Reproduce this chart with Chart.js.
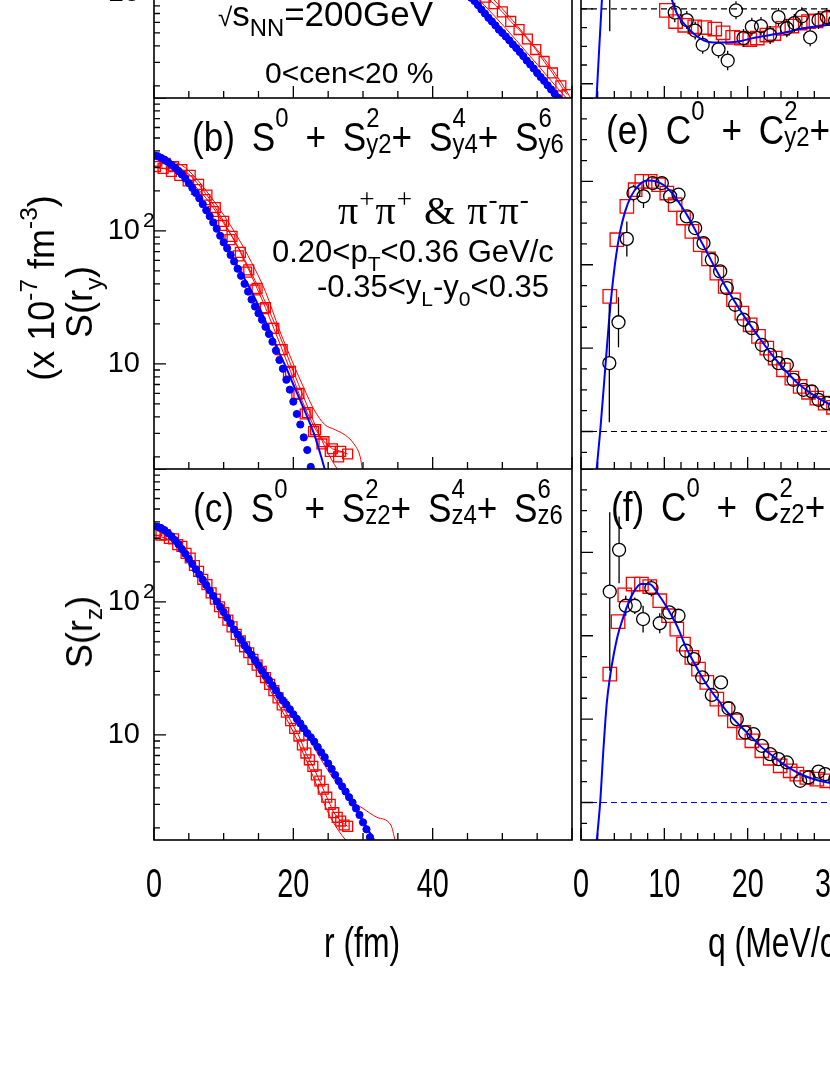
<!DOCTYPE html>
<html>
<head>
<meta charset="utf-8">
<script src="https://cdn.jsdelivr.net/npm/chart.js@4.4.1/dist/chart.umd.min.js"></script>
<style>
html, body { margin: 0; padding: 0; background: #fff; overflow: hidden; }
#page { position: relative; width: 830px; height: 1075px; overflow: hidden; background: #fff; }
#page canvas { position: absolute; }
.t { position: absolute; white-space: nowrap; font-family: "Liberation Sans", Arial, sans-serif; color: #000; line-height: 1; }
.t sup { font-size: .68em; vertical-align: .9em; line-height: 0; }
.t sub { font-size: .68em; vertical-align: -.4em; line-height: 0; }
.ttl { transform: scaleX(.88); transform-origin: left center; word-spacing: 8px; }
.st { position: relative; display: inline-block; font-size: .68em; line-height: 1; word-spacing: 0; }
.st .u { position: absolute; left: 0; bottom: .9em; }
.st .d { position: relative; top: .08em; }
.rot { transform: translate(-50%, -50%) rotate(-90deg); }
.serif { font-family: "Liberation Serif", "Times New Roman", serif; }
</style>
</head>
<body>
<div id="page">
  <canvas id="cvA" width="576" height="371" style="left:0;top:-273px"></canvas>
  <canvas id="cvB" width="576" height="371" style="left:0;top:98px"></canvas>
  <canvas id="cvC" width="576" height="471" style="left:0;top:469px"></canvas>
  <canvas id="cvD" width="530" height="371" style="left:556px;top:-273px"></canvas>
  <canvas id="cvE" width="530" height="371" style="left:556px;top:98px"></canvas>
  <canvas id="cvF" width="530" height="471" style="left:556px;top:469px"></canvas>

  <div class="t" style="left:218px;top:-4px;font-size:35px"><span style="font-size:26px">√</span>s<sub>NN</sub>=200GeV</div>
  <div class="t" style="left:265px;top:58px;font-size:30px">0&lt;cen&lt;20 %</div>

  <div class="t ttl" style="left:192px;top:117px;font-size:40px">(b) S<sup>0</sup> + S<span class="st"><span class="u">2</span><span class="d">y2</span></span>+ S<span class="st"><span class="u">4</span><span class="d">y4</span></span>+ S<span class="st"><span class="u">6</span><span class="d">y6</span></span></div>
  <div class="t ttl" style="left:193px;top:488px;font-size:40px">(c) S<sup>0</sup> + S<span class="st"><span class="u">2</span><span class="d">z2</span></span>+ S<span class="st"><span class="u">4</span><span class="d">z4</span></span>+ S<span class="st"><span class="u">6</span><span class="d">z6</span></span></div>
  <div class="t ttl" style="left:606px;top:110px;font-size:40px">(e) C<sup>0</sup> + C<span class="st"><span class="u">2</span><span class="d">y2</span></span>+ C<span class="st"><span class="u">4</span><span class="d">y4</span></span>+ C<span class="st"><span class="u">6</span><span class="d">y6</span></span></div>
  <div class="t ttl" style="left:611px;top:487px;font-size:40px">(f) C<sup>0</sup> + C<span class="st"><span class="u">2</span><span class="d">z2</span></span>+ C<span class="st"><span class="u">4</span><span class="d">z4</span></span>+ C<span class="st"><span class="u">6</span><span class="d">z6</span></span></div>

  <div class="t serif" style="left:338px;top:191px;font-size:40px;letter-spacing:1px">π<sup style="vertical-align:.6em">+</sup>π<sup style="vertical-align:.6em">+</sup> &amp; π<sup style="vertical-align:.6em">-</sup>π<sup style="vertical-align:.6em">-</sup></div>
  <div class="t" style="left:272px;top:236px;font-size:31px">0.20&lt;p<sub style="vertical-align:-.45em">T</sub>&lt;0.36 GeV/c</div>
  <div class="t" style="left:317px;top:271px;font-size:31px">-0.35&lt;y<sub style="vertical-align:-.45em">L</sub>-y<sub style="vertical-align:-.45em">0</sub>&lt;0.35</div>

  <div class="t rot" style="left:80px;top:302px;font-size:36px">S(r<sub>y</sub>)</div>
  <div class="t rot" style="left:42px;top:288px;font-size:36px">(x 10<sup style="vertical-align:.7em">-7</sup> fm<sup style="vertical-align:.7em">-3</sup>)</div>
  <div class="t rot" style="left:80px;top:632px;font-size:36px">S(r<sub>z</sub>)</div>

  <div class="t" style="left:362px;top:922px;font-size:42px;transform:translateX(-50%) scaleX(.76)">r (fm)</div>
  <div class="t" style="left:708px;top:922px;font-size:42px;transform:scaleX(.76);transform-origin:left center">q (MeV/c)</div>
</div>

<script>
// ---------- data ----------
// left column: source S(r) in units of 1e-7 fm^-3, r in fm
// (a) out direction, only the tail is inside the crop
const rA_dots = [44, 44.5, 45, 45.5, 46, 46.5, 47, 47.5, 48, 48.5, 49, 49.5, 50, 50.5, 51, 51.5, 52, 52.5, 53, 53.5, 54, 54.5, 55, 55.5, 56, 56.5, 57, 57.5, 58, 58.5];
const sA_dots = [11.5, 10.7, 9.9, 9.2, 8.7, 8.1, 7.5, 7.0, 6.5, 6.1, 5.7, 5.3, 5.0, 4.7, 4.4, 4.1, 3.85, 3.6, 3.35, 3.1, 2.9, 2.7, 2.5, 2.33, 2.18, 2.02, 1.88, 1.75, 1.63, 1.52];
const rA_fit = [43, 46, 49, 52, 55, 58.3];
const sA_fit = [13.5, 8.8, 6.0, 4.0, 2.6, 1.62];
const rA_sq = [44.0, 45.2, 46.4, 47.6, 48.8, 50.0, 51.2, 52.4, 53.6, 54.8, 56.0, 57.2, 58.4, 59.3];
const sA_sq = [13.2, 11.8, 10.4, 9.3, 8.3, 7.2, 6.1, 5.3, 4.5, 3.75, 3.05, 2.5, 2.0, 1.72];
const rA_up = [44, 47, 50, 53, 56, 58.5, 59.8];
const sA_up = [15.5, 11.0, 7.6, 5.0, 3.2, 2.1, 1.62];
const rA_lo = [43, 46, 49, 52, 55, 58, 59.2];
const sA_lo = [13.5, 9.6, 6.6, 4.4, 2.9, 1.9, 1.62];

// (b) side direction
const rB_dots = [0, 0.5, 1, 1.5, 2, 2.5, 3, 3.5, 4, 4.5, 5, 5.5, 6, 6.5, 7, 7.5, 8, 8.5, 9, 9.5, 10, 10.5, 11, 11.5, 12, 12.5, 13, 13.5, 14, 14.5, 15, 15.5, 16, 16.5, 17, 17.5, 18, 18.5, 19, 19.5, 20, 20.5, 21, 21.5, 22, 22.5];
const sB_dots = [370, 366, 355, 344, 330, 315, 300, 283, 266, 248, 229, 211, 193, 176, 159, 143, 129, 116, 104, 92, 82, 74, 66, 59, 52, 46, 40, 35, 30.5, 27, 24, 21.5, 19, 16.8, 14.7, 12.6, 10.7, 9.2, 7.6, 6.4, 5.2, 4.2, 3.5, 2.8, 2.25, 1.68];
const rB_fit = [0, 2, 4, 6, 8, 10, 12, 14, 16, 17, 18, 19, 20, 21, 22, 23, 24, 24.5];
const sB_fit = [375, 335, 270, 196, 132, 84, 54, 35, 21, 16, 12, 9.3, 7.0, 5.3, 4.0, 2.95, 2.0, 1.62];
const rB_sq = [0.4, 1.6, 2.8, 4.0, 5.2, 6.4, 7.6, 8.8, 10.0, 11.2, 12.4, 13.6, 14.8, 16.0, 17.2, 18.4, 19.6, 20.8, 22.0, 23.2, 24.4, 25.6, 26.8, 27.8];
const sB_sq = [335, 322, 305, 290, 262, 224, 186, 150, 118, 91, 69, 51, 37, 26.5, 18.5, 12.8, 8.8, 6.0, 4.3, 3.2, 2.6, 2.3, 2.2, 2.1];
const rB_sq2 = [0.2, 1.3, 2.5, 3.7, 4.9, 6.1, 7.3, 8.5, 9.7, 10.9, 12.1, 13.3, 14.5, 15.7, 16.9, 18.1, 19.3, 20.5, 21.7, 22.9, 24.1, 25.3, 26.5];
const sB_sq2 = [305, 295, 280, 262, 238, 205, 172, 140, 110, 86, 65, 49, 36, 26, 18.5, 12.8, 8.6, 5.9, 4.2, 3.1, 2.5, 2.2, 2.0];
const rB_up = [0, 2, 4, 6, 8, 10, 12, 14, 16, 18, 20, 21.5, 23, 24.5, 26, 27.5, 28.7, 29.6, 29.9];
const sB_up = [345, 335, 312, 250, 185, 132, 90, 58, 35, 18, 10, 6.6, 4.5, 3.5, 3.2, 2.9, 2.5, 2.0, 1.62];
const rB_lo = [0, 2, 4, 6, 8, 10, 12, 14, 16, 18, 20, 21.5, 23, 24.5, 25.5, 26.3];
const sB_lo = [305, 290, 262, 214, 163, 114, 77, 48, 29, 16.5, 8.8, 5.6, 3.6, 2.4, 1.9, 1.62];

// (c) long direction
const rC_dots = [0, 0.5, 1, 1.5, 2, 2.5, 3, 3.5, 4, 4.5, 5, 5.5, 6, 6.5, 7, 7.5, 8, 8.5, 9, 9.5, 10, 10.5, 11, 11.5, 12, 12.5, 13, 13.5, 14, 14.5, 15, 15.5, 16, 16.5, 17, 17.5, 18, 18.5, 19, 19.5, 20, 20.5, 21, 21.5, 22, 22.5, 23, 23.5, 24, 24.5, 25, 25.5, 26, 26.5, 27, 27.5, 28, 28.5, 29, 29.5, 30, 30.5, 31];
const sC_dots = [372, 368, 360, 347, 330, 312, 292, 272, 250, 230, 211, 193, 176, 161, 147, 134, 122, 111, 101, 92, 84, 76, 69, 62, 57, 52, 47, 43.5, 40, 36.5, 33.5, 30.5, 28, 25.8, 23.6, 21.6, 19.8, 18.2, 16.9, 15.6, 14.3, 13.2, 12.2, 11.2, 10.3, 9.6, 8.9, 8.1, 7.4, 6.8, 6.1, 5.55, 5.0, 4.5, 4.1, 3.75, 3.4, 3.1, 2.8, 2.5, 2.2, 1.95, 1.7];
const rC_fit = [0, 2, 4, 6, 8, 10, 12, 14, 16, 18, 20, 22, 24, 26, 28, 30, 31.6];
const sC_fit = [374, 332, 252, 178, 124, 85, 58, 40.5, 28.5, 20, 14.2, 10.1, 7.1, 4.9, 3.35, 2.25, 1.62];
const rC_sq = [0.4, 1.6, 2.8, 4.0, 5.2, 6.4, 7.6, 8.8, 10.0, 11.2, 12.4, 13.6, 14.8, 16.0, 17.2, 18.4, 19.6, 20.8, 21.8, 22.8, 23.8, 24.8, 25.8, 26.8, 27.8];
const sC_sq = [345, 320, 298, 262, 214, 170, 135, 105, 83, 65, 51, 41.5, 33.5, 27, 21.5, 16.8, 12.8, 9.8, 7.3, 5.8, 4.5, 3.4, 2.6, 2.25, 2.05];
const rC_sq2 = [0.2, 1.0, 2.2, 3.4, 4.6, 5.8, 7.0, 8.2, 9.4, 10.6, 11.8, 13.0, 14.2, 15.4, 16.6, 17.8, 19.0, 20.2, 21.3, 22.3, 23.3, 24.3, 25.3, 26.3, 27.3];
const sC_sq2 = [330, 318, 300, 270, 232, 188, 148, 117, 92, 73, 57, 46, 37, 30, 24, 19, 14.8, 11.2, 8.4, 6.5, 5.0, 3.9, 3.0, 2.4, 2.1];
const rC_up = [0, 3, 6, 9, 12, 15, 18, 20, 22, 24, 26, 28, 30, 32, 34, 34.6];
const sC_up = [362, 310, 185, 108, 60, 34, 19, 14, 9.8, 6.5, 4.5, 3.3, 2.8, 2.4, 2.1, 1.62];
const rC_lo = [0, 3, 6, 9, 12, 15, 18, 20, 22, 23.5, 25, 26.5, 27.5];
const sC_lo = [322, 275, 170, 96, 53, 30, 16.5, 10.5, 6.2, 4.0, 2.6, 1.9, 1.62];

// right column: correlation moments vs q (MeV/c)
// (d) out direction, lower part only
const qD_c = [3.45, 11.25, 12.7, 13.7, 14.6, 16.5, 17.6, 18.6, 19.5, 20.5, 21.6, 22.7, 23.7, 24.7, 25.6, 26.5, 27.5, 28.5, 29.5, 30.5];
const vD_c = [0.06, -0.005, -0.015, -0.029, -0.048, -0.054, -0.069, -0.002, -0.039, -0.024, -0.023, -0.035, -0.011, -0.026, -0.019, -0.010, -0.038, -0.015, -0.011, -0.016];
const eD_c = [0.09, 0.013, 0.012, 0.012, 0.012, 0.012, 0.013, 0.012, 0.012, 0.012, 0.012, 0.012, 0.012, 0.012, 0.012, 0.012, 0.012, 0.012, 0.012, 0.012];
const qD_s = [10.25, 11.35, 12.45, 13.65, 14.85, 16.05, 17.05, 18.2, 19.25, 20.25, 21.15, 22.3, 23.15, 24.2, 25.3, 26.3, 27.3, 28.2, 29.3, 30.3];
const vD_s = [-0.002, -0.017, -0.022, -0.024, -0.025, -0.027, -0.032, -0.038, -0.039, -0.041, -0.039, -0.035, -0.033, -0.026, -0.023, -0.019, -0.017, -0.016, -0.013, -0.011];
const qD_f = [1.85, 2.2, 2.55, 6, 10.6, 11.5, 12.3, 13.5, 14.7, 15.9, 17.1, 18.7, 20.7, 22.7, 24.7, 26.7, 28.7, 30.5];
const vD_f = [-0.122, -0.05, 0.02, null, 0.022, -0.006, -0.019, -0.033, -0.042, -0.045, -0.045, -0.044, -0.039, -0.035, -0.031, -0.026, -0.023, -0.020];

// (e) side direction
const qE_c = [3.4, 4.5, 5.5, 6.3, 7.5, 8.6, 9.7, 10.7, 11.7, 12.7, 13.7, 14.7, 15.7, 16.7, 17.5, 18.5, 19.5, 20.5, 21.7, 22.7, 23.7, 24.7, 25.5, 26.7, 27.7, 28.5, 29.5, 30.5];
const vE_c = [0.082, 0.131, 0.231, 0.286, 0.282, 0.298, 0.298, 0.282, 0.284, 0.258, 0.244, 0.226, 0.206, 0.192, 0.172, 0.152, 0.134, 0.124, 0.104, 0.092, 0.082, 0.080, 0.062, 0.050, 0.048, 0.038, 0.034, 0.030];
const eE_c = [0.071, 0.030, 0.021, 0.010, 0.014, 0.008, 0.008, 0.007, 0.007, 0.007, 0.006, 0.006, 0.006, 0.006, 0.006, 0.005, 0.005, 0.005, 0.005, 0.005, 0.005, 0.005, 0.005, 0.005, 0.005, 0.005, 0.005, 0.005];
const qE_s = [3.45, 4.3, 5.5, 6.5, 7.3, 8.3, 9.3, 10.3, 11.3, 12.3, 13.3, 14.3, 15.3, 16.3, 17.3, 18.3, 19.3, 20.3, 21.3, 22.3, 23.3, 24.3, 25.3, 26.3, 27.3, 28.3, 29.3, 30.3];
const vE_s = [0.162, 0.230, 0.270, 0.290, 0.300, 0.300, 0.296, 0.286, 0.272, 0.256, 0.240, 0.224, 0.207, 0.190, 0.174, 0.158, 0.142, 0.128, 0.114, 0.100, 0.088, 0.074, 0.064, 0.054, 0.047, 0.040, 0.034, 0.029];
const qE_f = [1.85, 2.3, 2.8, 3.3, 3.7, 4.2, 4.7, 5.3, 6.0, 7.0, 8.0, 9.0, 10.0, 11.0, 12.0, 13.0, 14.0, 15.0, 16.0, 17.0, 18.0, 19.0, 20.0, 21.0, 22.0, 23.0, 24.0, 25.0, 26.0, 27.0, 28.0, 29.0, 30.0, 31.0];
const vE_f = [-0.048, 0.0, 0.062, 0.125, 0.168, 0.210, 0.240, 0.264, 0.282, 0.296, 0.301, 0.300, 0.295, 0.285, 0.271, 0.255, 0.236, 0.217, 0.198, 0.180, 0.163, 0.147, 0.132, 0.118, 0.104, 0.091, 0.079, 0.068, 0.058, 0.050, 0.043, 0.037, 0.032, 0.028];

// (f) long direction
const qF_c = [3.45, 4.57, 5.37, 6.45, 7.45, 8.45, 9.45, 10.6, 11.7, 12.6, 13.55, 14.55, 15.7, 16.8, 17.7, 18.7, 19.7, 20.7, 21.7, 22.7, 23.7, 24.7, 26.3, 27.3, 28.5, 29.3, 30.5];
const vF_c = [0.253, 0.303, 0.236, 0.236, 0.220, 0.257, 0.215, 0.228, 0.224, 0.182, 0.172, 0.150, 0.129, 0.144, 0.113, 0.100, 0.084, 0.082, 0.068, 0.058, 0.052, 0.048, 0.026, 0.030, 0.037, 0.034, 0.028];
const eF_c = [0.095, 0.040, 0.012, 0.010, 0.016, 0.010, 0.012, 0.008, 0.008, 0.007, 0.007, 0.006, 0.006, 0.006, 0.006, 0.005, 0.005, 0.005, 0.005, 0.005, 0.005, 0.005, 0.005, 0.005, 0.005, 0.005, 0.005];
const qF_s = [3.45, 4.45, 5.25, 6.25, 7.25, 8.25, 9.45, 10.5, 11.5, 12.3, 13.3, 14.1, 15.1, 16.3, 17.3, 18.4, 19.5, 20.5, 21.7, 22.7, 23.9, 25.1, 25.9, 27.1, 28.3, 29.5, 30.7];
const vF_s = [0.154, 0.217, 0.249, 0.262, 0.262, 0.259, 0.242, 0.224, 0.208, 0.190, 0.174, 0.160, 0.144, 0.124, 0.112, 0.098, 0.084, 0.074, 0.062, 0.053, 0.044, 0.038, 0.034, 0.030, 0.028, 0.026, 0.024];
const qF_f = [1.85, 2.3, 2.7, 3.1, 3.5, 3.9, 4.4, 5.0, 5.6, 6.3, 7.2, 8.2, 9.4, 10.6, 11.6, 12.6, 13.6, 14.6, 15.6, 16.6, 17.6, 18.6, 19.6, 20.6, 21.6, 22.6, 23.6, 24.6, 25.6, 26.6, 27.6, 28.6, 29.6, 31.0];
const vF_f = [-0.05, 0.0, 0.065, 0.120, 0.152, 0.176, 0.200, 0.220, 0.237, 0.252, 0.262, 0.262, 0.248, 0.229, 0.210, 0.186, 0.167, 0.149, 0.134, 0.121, 0.108, 0.097, 0.087, 0.077, 0.067, 0.059, 0.051, 0.044, 0.038, 0.033, 0.029, 0.026, 0.024, 0.022];

// axis ticks / labels
const rMajor = [0, 20, 40, 60], rStep = 5, rLabels = [0, 20, 40];
const qMajor = [0, 10, 20, 30, 40, 50, 60], qStep = 2, qLabels = [0, 10, 20, 30, 40, 50];
const sMajor = [10, 100, 1000], sLabels = [10, 100];
const vMajor = [-0.1, 0, 0.1, 0.2, 0.3, 0.4], vStep = 0.025;

const BLUE = '#0000ff', RED = '#ff0000', FONT = '"Liberation Sans", Arial, sans-serif';

// ---------- helpers ----------
const xy = (xs, ys) => xs.map((x, i) => ({x: x, y: ys[i]}));
const range = (lo, hi, step) => { const out = []; for (let v = lo; v <= hi + 1e-9; v += step) out.push(+v.toFixed(4)); return out; };
const logMinor = () => { const out = []; [1, 10, 100].forEach(d => { for (let k = 2; k <= 9; k++) out.push(k * d); }); return out; };

function dots(xs, ys) {
  return {data: xy(xs, ys), showLine: false, pointStyle: 'circle', pointRadius: 3.6,
    pointBackgroundColor: BLUE, pointBorderColor: BLUE, pointBorderWidth: 1};
}
function curve(xs, ys, color, width) {
  return {data: xy(xs, ys), showLine: true, pointRadius: 0, borderColor: color, borderWidth: width,
    cubicInterpolationMode: 'monotone', fill: false, spanGaps: false};
}
function squares(xs, ys, r, joined) {
  return {data: xy(xs, ys), showLine: joined, pointStyle: 'rect', pointRadius: r, borderColor: RED, borderWidth: 1,
    pointBackgroundColor: 'rgba(0,0,0,0)', pointBorderColor: RED, pointBorderWidth: 1.3, fill: false};
}
function circles(xs, ys, errs) {
  return {data: xy(xs, ys), errs: errs, showLine: false, pointStyle: 'circle', pointRadius: 6.5,
    pointBackgroundColor: 'rgba(0,0,0,0)', pointBorderColor: '#000', pointBorderWidth: 1.3};
}
function dashed(color) {
  return {data: [{x: 0, y: 0}, {x: 60, y: 0}], showLine: true, pointRadius: 0, borderColor: color,
    borderWidth: 1.2, borderDash: [6, 4], fill: false};
}

// error bars that stop at the open marker, like ROOT
const errBars = {
  id: 'errBars',
  afterDatasetsDraw(chart) {
    const {ctx, chartArea: a} = chart, sx = chart.scales.x, sy = chart.scales.y;
    ctx.save();
    ctx.beginPath(); ctx.rect(a.left, a.top, a.right - a.left, a.bottom - a.top); ctx.clip();
    ctx.strokeStyle = '#000'; ctx.lineWidth = 1.3;
    chart.data.datasets.forEach(ds => {
      if (!ds.errs) return;
      const r = ds.pointRadius;
      ds.data.forEach((p, i) => {
        const px = sx.getPixelForValue(p.x), py = sy.getPixelForValue(p.y);
        const hi = sy.getPixelForValue(p.y + ds.errs[i]), lo = sy.getPixelForValue(p.y - ds.errs[i]);
        ctx.beginPath();
        if (py - hi > r) { ctx.moveTo(px, hi); ctx.lineTo(px, py - r); }
        if (lo - py > r) { ctx.moveTo(px, py + r); ctx.lineTo(px, lo); }
        ctx.stroke();
      });
    });
    ctx.restore();
  }
};

// ROOT-like frame, inward ticks and tick labels
function rootAxes(ax) {
  return {
    id: 'rootAxes',
    afterDraw(chart) {
      const {ctx, chartArea: a} = chart, sx = chart.scales.x, sy = chart.scales.y;
      ctx.save();
      ctx.strokeStyle = '#000'; ctx.lineWidth = 1.3;
      ctx.beginPath();
      ax.xMinor.forEach(v => { const p = sx.getPixelForValue(v); ctx.moveTo(p, a.bottom); ctx.lineTo(p, a.bottom - 7); });
      ax.xMajor.forEach(v => { const p = sx.getPixelForValue(v); ctx.moveTo(p, a.bottom); ctx.lineTo(p, a.bottom - 12); });
      ax.yMinor.forEach(v => { const p = sy.getPixelForValue(v); if (p < a.top || p > a.bottom) return; ctx.moveTo(a.left, p); ctx.lineTo(a.left + 6, p); });
      ax.yMajor.forEach(v => { const p = sy.getPixelForValue(v); if (p < a.top || p > a.bottom) return; ctx.moveTo(a.left, p); ctx.lineTo(a.left + 12, p); });
      ctx.stroke();
      ctx.lineWidth = 1.6;
      ctx.strokeRect(a.left, a.top, a.right - a.left, a.bottom - a.top);
      ctx.fillStyle = '#000';
      if (ax.xLabels) {
        ctx.font = '40px ' + FONT; ctx.textAlign = 'center'; ctx.textBaseline = 'alphabetic';
        ax.xLabels.forEach(v => {
          ctx.save(); ctx.translate(sx.getPixelForValue(v), a.bottom + 57); ctx.scale(0.72, 1);
          ctx.fillText(String(v), 0, 0); ctx.restore();
        });
      }
      if (ax.yLabels) {
        ax.yLabels.forEach(v => {
          const p = sy.getPixelForValue(v), e = Math.round(Math.log10(v));
          ctx.font = '29px ' + FONT; ctx.textAlign = 'right'; ctx.textBaseline = 'middle';
          ctx.fillText('10', a.left - 14, p);
          if (e > 1) {
            ctx.font = '21px ' + FONT; ctx.textAlign = 'left'; ctx.textBaseline = 'alphabetic';
            ctx.fillText(String(e), a.left - 11, p - 4);
          }
        });
      }
      ctx.restore();
    }
  };
}

function panel(id, cfg) {
  return new Chart(document.getElementById(id), {
    type: 'scatter',
    data: {datasets: cfg.datasets},
    options: {
      responsive: false, animation: false, devicePixelRatio: 1,
      layout: {padding: cfg.pad, autoPadding: false},
      plugins: {legend: {display: false}, tooltip: {enabled: false}},
      scales: {
        x: {type: 'linear', display: false, min: 0, max: 60},
        y: {type: cfg.log ? 'logarithmic' : 'linear', display: false, min: cfg.y[0], max: cfg.y[1]}
      }
    },
    plugins: [errBars, rootAxes(cfg.axes)]
  });
}

const leftAxes = (labels) => ({xMajor: rMajor, xMinor: range(0, 60, rStep).filter(v => v % 20), yMajor: sMajor, yMinor: logMinor(),
  xLabels: labels ? rLabels : null, yLabels: sLabels});
const rightAxes = (labels) => ({xMajor: qMajor, xMinor: range(0, 60, qStep).filter(v => v % 10), yMajor: vMajor, yMinor: range(-0.125, 0.4, vStep),
  xLabels: labels ? qLabels : null, yLabels: null});

const padL = {left: 154, right: 4, top: 0, bottom: 0};
const padR = {left: 25, right: 5, top: 0, bottom: 0};

panel('cvA', {log: true, y: [1.62, 1000], pad: padL, axes: leftAxes(false), datasets: [
  dots(rA_dots, sA_dots), curve(rA_fit, sA_fit, BLUE, 2),
  squares(rA_sq, sA_sq, 7, true), curve(rA_up, sA_up, RED, 1), curve(rA_lo, sA_lo, RED, 1)]});
panel('cvB', {log: true, y: [1.62, 1000], pad: padL, axes: leftAxes(false), datasets: [
  dots(rB_dots, sB_dots), curve(rB_fit, sB_fit, BLUE, 2),
  squares(rB_sq, sB_sq, 7, true), squares(rB_sq2, sB_sq2, 7, false),
  curve(rB_up, sB_up, RED, 1), curve(rB_lo, sB_lo, RED, 1)]});
panel('cvC', {log: true, y: [1.62, 1000], pad: Object.assign({}, padL, {bottom: 100}), axes: leftAxes(true), datasets: [
  dots(rC_dots, sC_dots), curve(rC_fit, sC_fit, BLUE, 2),
  squares(rC_sq, sC_sq, 7, true), squares(rC_sq2, sC_sq2, 7, false),
  curve(rC_up, sC_up, RED, 1), curve(rC_lo, sC_lo, RED, 1)]});

panel('cvD', {log: false, y: [-0.119, 0.376], pad: padR, axes: rightAxes(false), datasets: [
  curve(qD_f, vD_f, BLUE, 2), circles(qD_c, vD_c, eD_c), squares(qD_s, vD_s, 9.5, false), dashed('#000')]});
panel('cvE', {log: false, y: [-0.045, 0.4], pad: padR, axes: rightAxes(false), datasets: [
  curve(qE_f, vE_f, BLUE, 2), circles(qE_c, vE_c, eE_c), squares(qE_s, vE_s, 9.5, false), dashed('#000')]});
panel('cvF', {log: false, y: [-0.045, 0.4], pad: Object.assign({}, padR, {bottom: 100}), axes: rightAxes(true), datasets: [
  curve(qF_f, vF_f, BLUE, 2), circles(qF_c, vF_c, eF_c), squares(qF_s, vF_s, 9.5, false), dashed(BLUE)]});
</script>
</body>
</html>
